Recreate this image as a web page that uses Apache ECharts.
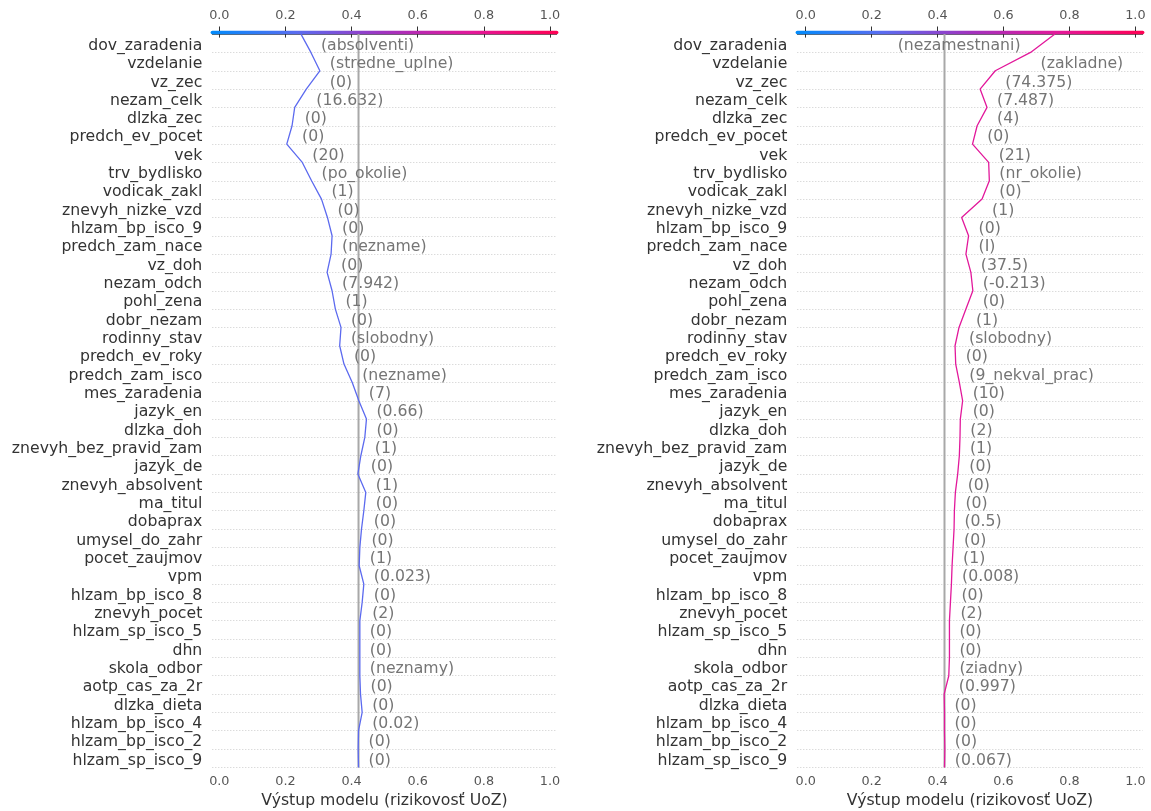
<!DOCTYPE html>
<html>
<head>
<meta charset="utf-8">
<script src="https://cdn.jsdelivr.net/npm/echarts@6/dist/echarts.min.js"></script>
<style>
  html, body { margin: 0; padding: 0; background: #fff; }
  #chart { width: 1151px; height: 811px; }
</style>
</head>
<body>
<div id="chart"></div>
<script>
// Feature order, top to bottom
const featureNames = [
  'dov_zaradenia', 'vzdelanie', 'vz_zec', 'nezam_celk', 'dlzka_zec', 'predch_ev_pocet', 'vek',
  'trv_bydlisko', 'vodicak_zakl', 'znevyh_nizke_vzd', 'hlzam_bp_isco_9', 'predch_zam_nace', 'vz_doh',
  'nezam_odch', 'pohl_zena', 'dobr_nezam', 'rodinny_stav', 'predch_ev_roky', 'predch_zam_isco',
  'mes_zaradenia', 'jazyk_en', 'dlzka_doh', 'znevyh_bez_pravid_zam', 'jazyk_de', 'znevyh_absolvent',
  'ma_titul', 'dobaprax', 'umysel_do_zahr', 'pocet_zaujmov', 'vpm', 'hlzam_bp_isco_8', 'znevyh_pocet',
  'hlzam_sp_isco_5', 'dhn', 'skola_odbor', 'aotp_cas_za_2r', 'dlzka_dieta', 'hlzam_bp_isco_4',
  'hlzam_bp_isco_2', 'hlzam_sp_isco_9'
];

// Feature values of the two observations
const leftFeatureValues = [
  'absolventi', 'stredne_uplne', '0', '16.632', '0', '0', '20', 'po_okolie', '1', '0', '0', 'nezname',
  '0', '7.942', '1', '0', 'slobodny', '0', 'nezname', '7', '0.66', '0', '1', '0', '1', '0', '0', '0',
  '1', '0.023', '0', '2', '0', '0', 'neznamy', '0', '0', '0.02', '0', '0'
];
const rightFeatureValues = [
  'nezamestnani', 'zakladne', '74.375', '7.487', '4', '0', '21', 'nr_okolie', '0', '1', '0', 'I',
  '37.5', '-0.213', '0', '1', 'slobodny', '0', '9_nekval_prac', '10', '0', '2', '1', '0', '0', '0',
  '0.5', '0', '1', '0.008', '0', '2', '0', '0', 'ziadny', '0.997', '0', '0', '0', '0.067'
];

// Cumulative model output at each row boundary, from the prediction (top) down to the base value (bottom)
const leftPath = [
  0.247, 0.277, 0.304, 0.263, 0.228, 0.220, 0.204, 0.251, 0.279, 0.309, 0.327, 0.341, 0.338, 0.326,
  0.341, 0.351, 0.368, 0.364, 0.377, 0.402, 0.422, 0.445, 0.440, 0.428, 0.419, 0.443, 0.437, 0.430,
  0.425, 0.423, 0.437, 0.432, 0.425, 0.425, 0.425, 0.425, 0.427, 0.432, 0.421, 0.420, 0.421
];
const rightPath = [
  0.756, 0.682, 0.575, 0.529, 0.550, 0.520, 0.506, 0.555, 0.557, 0.535, 0.473, 0.494, 0.486, 0.501,
  0.507, 0.486, 0.465, 0.453, 0.455, 0.466, 0.476, 0.469, 0.468, 0.466, 0.461, 0.454, 0.451, 0.450,
  0.447, 0.444, 0.442, 0.439, 0.436, 0.436, 0.436, 0.434, 0.420, 0.421, 0.421, 0.422, 0.421
];

const baseValue = 0.421;
const axisTicks = [0, 0.2, 0.4, 0.6, 0.8, 1.0];
const axisTitle = 'Výstup modelu (rizikovosť UoZ)';

// Colour map shared by the colour bar and the decision lines
const colorStops = [
  [0.00, '#008bfb'],
  [0.25, '#5a6cf0'],
  [0.50, '#a133bf'],
  [0.75, '#e3189a'],
  [1.00, '#ff0052']
];

const FONT = '"DejaVu Sans", "Liberation Sans", sans-serif';
const LABEL_SIZE = 15.7;
const TICK_SIZE = 12.8;
const TEXT_GAP = 10;
const TEXT_DROP = 2.5;   // text is centred on its baseline, a little below the row centre

function hexToRgb(h) {
  return [parseInt(h.slice(1, 3), 16), parseInt(h.slice(3, 5), 16), parseInt(h.slice(5, 7), 16)];
}
function colorAt(t) {
  t = Math.max(0, Math.min(1, t));
  for (let i = 1; i < colorStops.length; i++) {
    const [t1, c1] = colorStops[i];
    const [t0, c0] = colorStops[i - 1];
    if (t <= t1) {
      const f = (t - t0) / (t1 - t0);
      const a = hexToRgb(c0), b = hexToRgb(c1);
      const m = a.map((v, k) => Math.round(v + (b[k] - v) * f));
      return 'rgb(' + m.join(',') + ')';
    }
  }
  return colorStops[colorStops.length - 1][1];
}

const panels = [
  { path: leftPath, values: leftFeatureValues, min: -0.0212, max: 1.0203, left: 212.3, width: 344.4 },
  { path: rightPath, values: rightFeatureValues, min: -0.0255, max: 1.0222, left: 797.3, width: 345.4 }
];
const GRID_TOP = 34.1;
const GRID_HEIGHT = 733.3;

const chart = echarts.init(document.getElementById('chart'), null, { renderer: 'canvas' });

const grids = [], xAxes = [], yAxes = [];
panels.forEach((p, i) => {
  grids.push({
    left: p.left, width: p.width, top: GRID_TOP, height: GRID_HEIGHT,
    outerBoundsMode: 'none', containLabel: false, show: false
  });
  // bottom value axis
  xAxes.push({
    type: 'value', gridIndex: i, position: 'bottom', min: p.min, max: p.max,
    name: axisTitle, nameLocation: 'middle', nameGap: 25,
    nameTextStyle: { fontFamily: FONT, fontSize: LABEL_SIZE, color: '#333' },
    axisLine: { show: true, lineStyle: { color: '#666', width: 1 } },
    axisTick: { show: true, customValues: axisTicks, length: 3.5, lineStyle: { color: '#333', width: 1 } },
    axisLabel: {
      show: true, customValues: axisTicks, margin: 8,
      formatter: v => Number(v).toFixed(1),
      fontFamily: FONT, fontSize: TICK_SIZE, color: '#555'
    },
    splitLine: { show: false }
  });
  // colour bar ticks and labels
  xAxes.push({
    type: 'value', gridIndex: i, position: 'top', offset: 3.1, min: p.min, max: p.max,
    axisLine: { show: false },
    axisTick: { show: true, customValues: axisTicks, length: 4.5, lineStyle: { color: '#333', width: 1 } },
    axisLabel: {
      show: true, customValues: axisTicks, margin: 9,
      formatter: v => Number(v).toFixed(1),
      fontFamily: FONT, fontSize: TICK_SIZE, color: '#555'
    },
    splitLine: { show: false }
  });
  // colour bar itself
  xAxes.push({
    type: 'value', gridIndex: i, position: 'top', offset: 1.5, min: p.min, max: p.max,
    axisLine: {
      show: true,
      lineStyle: {
        width: 3.4,
        color: new echarts.graphic.LinearGradient(0, 0, 1, 0,
          colorStops.map(([offset, color]) => ({ offset, color })))
      }
    },
    axisTick: { show: false }, axisLabel: { show: false }, splitLine: { show: false }
  });
  // row boundaries
  yAxes.push({
    type: 'value', gridIndex: i, position: 'left', min: 0, max: featureNames.length, interval: 1, inverse: true,
    axisLine: { show: false }, axisTick: { show: false }, axisLabel: { show: false },
    splitLine: { show: true, lineStyle: { color: '#cccccc', width: 1, type: [1, 2] } }
  });
});

chart.setOption({
  backgroundColor: '#ffffff',
  animation: false,
  grid: grids,
  xAxis: xAxes,
  yAxis: yAxes,
  series: []
});

// text measurement for placing the feature value labels
const measureCtx = document.createElement('canvas').getContext('2d');
measureCtx.font = LABEL_SIZE + 'px "DejaVu Sans"';

const series = [];
panels.forEach((p, i) => {
  const xIdx = i * 3, yIdx = i;
  const lineColor = colorAt((p.path[0] - p.min) / (p.max - p.min));

  // feature names, right-aligned against the left edge of the plot
  series.push({
    type: 'scatter', xAxisIndex: xIdx, yAxisIndex: yIdx, z: 4,
    data: featureNames.map((name, r) => ({ value: [p.min, r + 0.5], name: name })),
    symbolSize: 0, silent: true, clip: false,
    itemStyle: { opacity: 1 },
    label: {
      show: true, position: 'left', distance: TEXT_GAP, offset: [0, TEXT_DROP],
      formatter: d => d.name,
      fontFamily: FONT, fontSize: LABEL_SIZE, color: '#333333'
    }
  });

  series.push({
    type: 'line', xAxisIndex: xIdx, yAxisIndex: yIdx, z: 1,
    data: [[baseValue, 0], [baseValue, featureNames.length]],
    symbol: 'none', silent: true,
    lineStyle: { color: '#a8a8a8', width: 2 }
  });

  series.push({
    type: 'line', xAxisIndex: xIdx, yAxisIndex: yIdx, z: 3,
    data: p.path.map((v, k) => [v, k]),
    symbol: 'none', silent: true,
    lineStyle: { color: lineColor, width: 1.3 }
  });

  const labels = p.values.map((val, r) => {
    const hi = Math.max(p.path[r], p.path[r + 1]);
    const lo = Math.min(p.path[r], p.path[r + 1]);
    const text = '(' + val + ')';
    const px = chart.convertToPixel({ xAxisIndex: xIdx }, hi);
    const fits = px + TEXT_GAP + measureCtx.measureText(text).width <= chart.getWidth();
    return {
      value: [fits ? hi : lo, r + 0.5],
      label: { position: fits ? 'right' : 'left', formatter: text }
    };
  });

  series.push({
    type: 'scatter', xAxisIndex: xIdx, yAxisIndex: yIdx, z: 4,
    data: labels, symbolSize: 0, silent: true,
    itemStyle: { opacity: 1 },
    label: {
      show: true, distance: TEXT_GAP, offset: [0, TEXT_DROP],
      fontFamily: FONT, fontSize: LABEL_SIZE, color: '#757575'
    }
  });
});

chart.setOption({ series: series });
</script>
</body>
</html>
